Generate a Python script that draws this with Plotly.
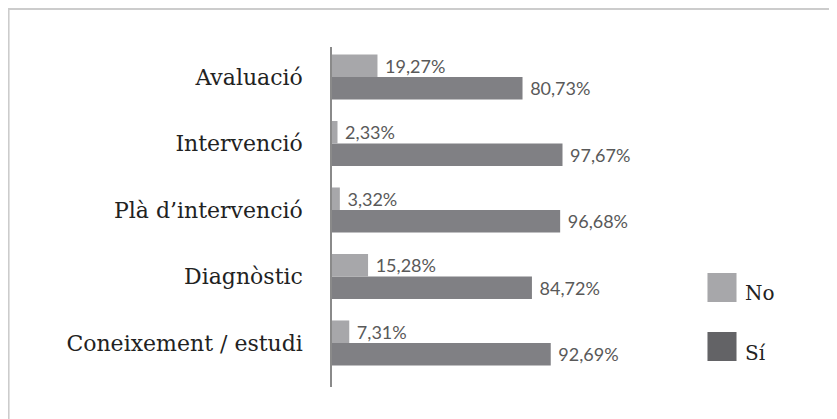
import plotly.graph_objects as go

categories = ["Avaluació", "Intervenció", "Plà d’intervenció", "Diagnòstic", "Coneixement / estudi"]
no_values = [19.27, 2.33, 3.32, 15.28, 7.31]
si_values = [80.73, 97.67, 96.68, 84.72, 92.69]
series_names = ["No", "Sí"]

W, H = 837, 419
OFF = 8  # page body margin offset
# target screen positions of plot area
PL, PR, PT, PB = 332, 567.7, 47, 387
ML, MT = PL - OFF, PT - OFF
MR, MB = W - (PR - OFF), H - (PB - OFF)
PW, PH = PR - PL, PB - PT


def px(x):
    return (x - PL) / PW


def py(y):
    return (PB - y) / PH


cats_rev = categories[::-1]
no_rev = no_values[::-1]
si_rev = si_values[::-1]

NO_COLOR = "#a7a7aa"
SI_COLOR = "#808084"
SI_LEGEND = "#636366"
LABEL_FONT = dict(family="Lato, 'Open Sans', sans-serif", size=18, color="#595959")
SERIF = "'DejaVu Serif', serif"

fig = go.Figure()
fig.add_trace(go.Bar(
    y=cats_rev, x=si_rev, orientation="h", name=series_names[1],
    marker=dict(color=SI_COLOR, line=dict(width=0)),
    texttemplate=" %{x:.2f}%", textposition="outside", cliponaxis=False,
    constraintext="none", textfont=LABEL_FONT, showlegend=False,
))
fig.add_trace(go.Bar(
    y=cats_rev, x=no_rev, orientation="h", name=series_names[0],
    marker=dict(color=NO_COLOR, line=dict(width=0)),
    texttemplate=" %{x:.2f}%", textposition="outside", cliponaxis=False,
    constraintext="none", textfont=LABEL_FONT, showlegend=False,
))

shapes = [
    dict(type="rect", xref="paper", yref="paper",
         x0=px(9), x1=px(900), y0=py(9), y1=py(480),
         line=dict(color="#cccccc", width=2), fillcolor="rgba(0,0,0,0)", layer="below"),
    dict(type="rect", xref="paper", yref="paper",
         x0=px(707), x1=px(736), y0=py(302), y1=py(273),
         line=dict(width=0), fillcolor=NO_COLOR),
    dict(type="rect", xref="paper", yref="paper",
         x0=px(707), x1=px(736), y0=py(361), y1=py(332),
         line=dict(width=0), fillcolor=SI_LEGEND),
]
annotations = [
    dict(xref="paper", yref="paper", x=px(742), y=py(293), text=series_names[0],
         showarrow=False, xanchor="left", yanchor="middle",
         font=dict(family=SERIF, size=20, color="#222222")),
    dict(xref="paper", yref="paper", x=px(742), y=py(353), text=series_names[1],
         showarrow=False, xanchor="left", yanchor="middle",
         font=dict(family=SERIF, size=20, color="#222222")),
]

fig.update_layout(
    width=W, height=H,
    margin=dict(l=ML, r=MR, t=MT, b=MB, pad=0),
    paper_bgcolor="white", plot_bgcolor="white",
    barmode="group", bargap=0.323, bargroupgap=0,
    separators=", ",
    showlegend=False,
    shapes=shapes, annotations=annotations,
    xaxis=dict(range=[0, 100], visible=False, fixedrange=True),
    yaxis=dict(
        type="category", range=[-0.662, 4.451],
        showline=True, linecolor="#8a8a8a", linewidth=1.5,
        showgrid=False, zeroline=False, ticks="", ticklabelstandoff=23,
        tickfont=dict(family=SERIF, size=22, color="#222222"),
    ),
)

fig.write_html("out.html")
